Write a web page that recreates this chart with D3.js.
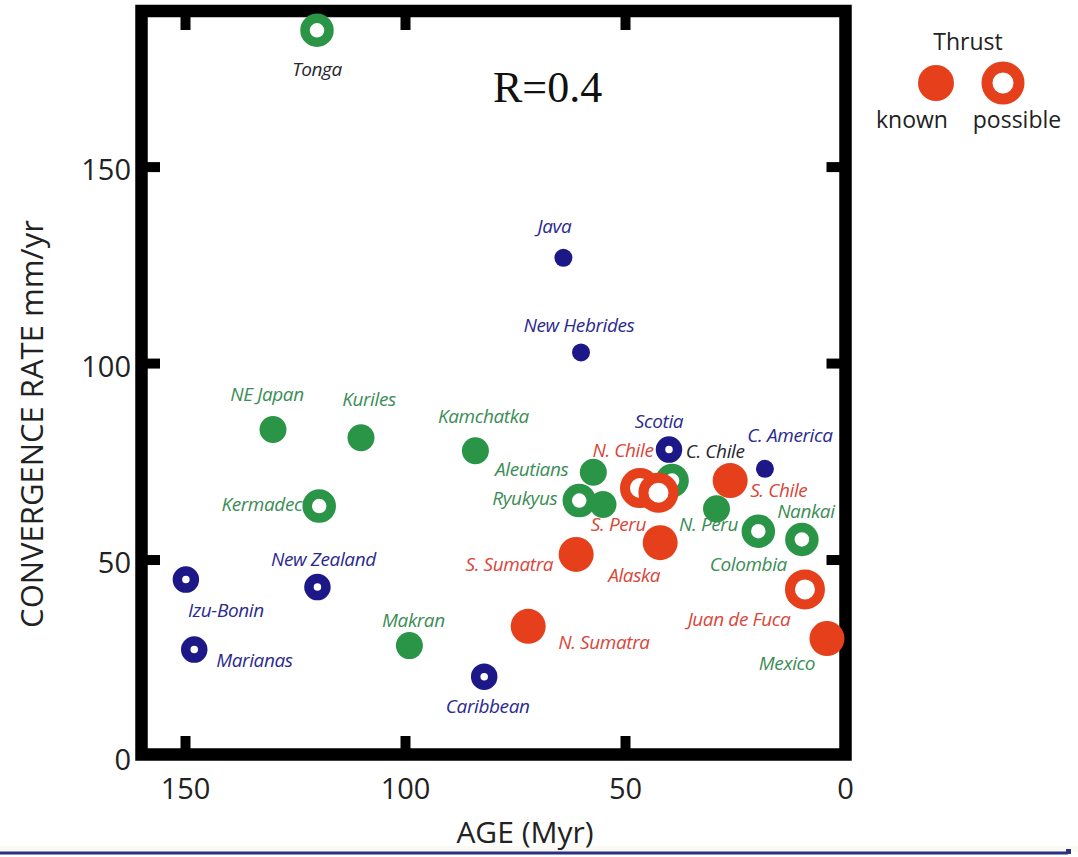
<!DOCTYPE html>
<html>
<head>
<meta charset="utf-8">
<script src="https://cdn.jsdelivr.net/npm/d3@7"></script>
<style>
  html, body { margin: 0; padding: 0; background: #fff; }
  svg { display: block; }
</style>
</head>
<body>
<svg id="chart" width="1078" height="857"></svg>
<script>
// Subduction zones: slab age vs. convergence rate
const regions = ["Tonga", "Java", "New Hebrides", "NE Japan", "Kuriles", "Kermadec", "Kamchatka",
  "Scotia", "C. America", "Aleutians", "Ryukyus", "", "N. Chile", "S. Peru", "C. Chile",
  "S. Chile", "N. Peru", "Colombia", "Nankai", "Juan de Fuca", "Mexico", "S. Sumatra",
  "Alaska", "N. Sumatra", "Makran", "Caribbean", "Izu-Bonin", "Marianas", "New Zealand"];
const ages  = [120, 64, 60, 130, 110, 119.5, 84, 40, 18.2, 57.2, 60.4, 55, 46.6, 42.4, 39.3,
  26.1, 29.2, 19.7, 9.8, 9.1, 4.1, 61.1, 42, 72, 99, 82, 149.8, 147.9, 119.9];
const rates = [184.7, 126.8, 102.7, 83.1, 81, 63.6, 77.7, 78, 73.1, 72.2, 65, 64, 68.2, 67, 70.1,
  70.1, 62.9, 57.2, 55.1, 42.4, 29.9, 51.3, 54.3, 33, 28.1, 20.2, 44.9, 27.1, 43];
// colour group of each zone
const groups = ["green", "blue", "blue", "green", "green", "green", "green", "blue", "blue",
  "green", "green", "green", "red", "red", "green", "red", "green", "green", "green", "red",
  "red", "red", "red", "red", "green", "blue", "blue", "blue", "blue"];
// marker style: filled dot or open ring
const kinds = ["ring", "dot", "dot", "dot", "dot", "ring", "dot", "ring", "dot", "dot", "ring",
  "dot", "ring", "ring", "ring", "dot", "dot", "ring", "ring", "ring", "dot", "dot", "dot",
  "dot", "dot", "ring", "ring", "ring", "ring"];
const labelGroups = ["dark", "blue", "blue", "green", "green", "green", "green", "blue", "blue",
  "green", "green", "green", "red", "red", "dark", "red", "green", "green", "green", "red",
  "green", "red", "red", "red", "green", "blue", "blue", "blue", "blue"];

const xTicks = [150, 100, 50, 0];
const yTicks = [0, 50, 100, 150];
const legendItems = ["known", "possible"];

// label placement relative to each marker: [dx, dy, anchor]
const labelOffsets = {
  "Tonga": [0, 46, "middle"], "Java": [-9, -25, "middle"], "New Hebrides": [-2, -20, "middle"],
  "NE Japan": [-6, -28, "middle"], "Kuriles": [8, -32, "middle"], "Kermadec": [-17, 5, "end"],
  "Kamchatka": [8, -28, "middle"], "Scotia": [-10, -22, "middle"], "C. America": [25, -27, "middle"],
  "Aleutians": [-25, 4, "end"], "Ryukyus": [-22, 4, "end"], "N. Chile": [-17, -31, "middle"],
  "S. Peru": [-40, 38, "middle"], "C. Chile": [43, -23, "middle"], "S. Chile": [20, 16, "start"],
  "N. Peru": [-8, 22, "middle"], "Colombia": [-10, 40, "middle"], "Nankai": [4, -21, "middle"],
  "Juan de Fuca": [-66, 37, "middle"], "Mexico": [-40, 31, "middle"], "S. Sumatra": [-23, 17, "end"],
  "Alaska": [-26, 39, "middle"], "N. Sumatra": [30, 23, "start"], "Makran": [4, -19, "middle"],
  "Caribbean": [3.5, 36, "middle"], "Izu-Bonin": [40, 37, "middle"], "Marianas": [22, 17, "start"],
  "New Zealand": [6, -21, "middle"]
};

const colors = { red: "#e5401b", green: "#2a9447", blue: "#1d1887" };
const labelColors = { red: "#d8473a", green: "#3b8d55", blue: "#2b2a8e", dark: "#262630" };
// marker geometry: radius of the circle and ring stroke width
const markerStyle = {
  "blue-dot":  { r: 9,    sw: 0 },
  "blue-ring": { r: 8.5,  sw: 9.5 },
  "green-dot": { r: 13.5, sw: 0 },
  "green-ring":{ r: 12,   sw: 9.5 },
  "red-dot":   { r: 17.5, sw: 0 },
  "red-ring":  { r: 15,   sw: 10 }
};
const layerOrder = { "green-dot": 0, "green-ring": 1, "blue-dot": 2, "blue-ring": 2, "red-dot": 3, "red-ring": 4 };

const svg = d3.select("#chart");
const font = "'Open Sans', 'DejaVu Sans', sans-serif";

// bottom rule
svg.append("rect").attr("x", 0).attr("y", 846).attr("width", 1078).attr("height", 6).attr("fill", "#fbfaf0");
svg.append("line").attr("x1", 0).attr("x2", 1068).attr("y1", 853).attr("y2", 853)
  .attr("stroke", "#2a2f8a").attr("stroke-width", 3);
svg.append("rect").attr("x", 1066).attr("y", 849).attr("width", 5).attr("height", 5).attr("fill", "#2a2f8a");

const x = d3.scaleLinear().domain([160, 0]).range([141, 845]);
const y = d3.scaleLinear().domain([0, 189.6]).range([756, 11]);

// axes with inward ticks on all four sides
const tickStyle = g => {
  g.select(".domain").remove();
  g.selectAll(".tick line").attr("stroke", "#000").attr("stroke-width", 10);
  g.selectAll(".tick text").attr("font-family", font).attr("font-size", 29).attr("fill", "#222");
};
svg.append("g").attr("transform", "translate(0,755)")
  .call(d3.axisBottom(x).tickValues(xTicks).tickSizeInner(-19).tickSizeOuter(0).tickPadding(23).tickFormat(d3.format("d")))
  .call(tickStyle)
  .call(g => g.selectAll(".tick").filter(d => d === 0).select("line").remove());
svg.append("g").attr("transform", "translate(0,11)")
  .call(d3.axisTop(x).tickValues(xTicks.filter(d => d !== 0)).tickSizeInner(-19).tickSizeOuter(0).tickFormat(""))
  .call(tickStyle);
svg.append("g").attr("transform", "translate(141,0)")
  .call(d3.axisLeft(y).tickValues(yTicks).tickSizeInner(-19).tickSizeOuter(0).tickPadding(10).tickFormat(d3.format("d")))
  .call(tickStyle)
  .call(g => g.selectAll(".tick text").attr("dy", "0.45em"))
  .call(g => g.selectAll(".tick").filter(d => d === 0).select("line").remove());
svg.append("g").attr("transform", "translate(845.5,0)")
  .call(d3.axisRight(y).tickValues(yTicks.filter(d => d !== 0)).tickSizeInner(-19).tickSizeOuter(0).tickFormat(""))
  .call(tickStyle);

// heavy frame
svg.append("rect")
  .attr("x", 141.5).attr("y", 11)
  .attr("width", 845.5 - 141.5).attr("height", 754.5 - 11)
  .attr("fill", "none").attr("stroke", "#000").attr("stroke-width", 12.5);

// axis titles
svg.append("text").attr("x", 525).attr("y", 843)
  .attr("text-anchor", "middle").attr("font-family", font).attr("font-size", 30).attr("fill", "#222")
  .text("AGE (Myr)");
svg.append("text").attr("transform", "translate(43,424) rotate(-90)")
  .attr("text-anchor", "middle").attr("font-family", font).attr("font-size", 31).attr("fill", "#222")
  .text("CONVERGENCE RATE mm/yr");

// correlation note
svg.append("text").attr("x", 493).attr("y", 102)
  .attr("font-family", "'Liberation Serif', 'Times New Roman', serif").attr("font-size", 44).attr("fill", "#111")
  .text("R=0.4");

// data points
const data = regions.map((name, i) => ({
  name, age: ages[i], rate: rates[i], group: groups[i], kind: kinds[i], labelGroup: labelGroups[i]
}));
const sorted = data.slice().sort((a, b) => layerOrder[a.group + "-" + a.kind] - layerOrder[b.group + "-" + b.kind]);

const plot = svg.append("g");
plot.selectAll("circle").data(sorted).join("circle")
  .attr("cx", d => x(d.age))
  .attr("cy", d => y(d.rate))
  .attr("r", d => markerStyle[d.group + "-" + d.kind].r)
  .attr("fill", d => d.kind === "dot" ? colors[d.group] : "#fff")
  .attr("stroke", d => d.kind === "ring" ? colors[d.group] : "none")
  .attr("stroke-width", d => markerStyle[d.group + "-" + d.kind].sw);

// region names
svg.append("g").selectAll("text").data(data.filter(d => d.name)).join("text")
  .attr("x", d => x(d.age) + labelOffsets[d.name][0])
  .attr("y", d => y(d.rate) + labelOffsets[d.name][1])
  .attr("text-anchor", d => labelOffsets[d.name][2])
  .attr("font-family", font).attr("font-style", "italic").attr("font-size", 19)
  .attr("letter-spacing", "-0.4")
  .attr("fill", d => labelColors[d.labelGroup])
  .text(d => d.name);

// legend
const legend = svg.append("g");
legend.append("text").attr("x", 968).attr("y", 50).attr("text-anchor", "middle")
  .attr("font-family", font).attr("font-size", 23).attr("fill", "#222").text("Thrust");
const legX = d3.scalePoint().domain(legendItems).range([936, 1003]);
legend.selectAll("circle").data(legendItems).join("circle")
  .attr("cx", d => legX(d)).attr("cy", 83)
  .attr("r", d => d === "known" ? 18 : 16)
  .attr("fill", d => d === "known" ? colors.red : "#fff")
  .attr("stroke", d => d === "known" ? "none" : colors.red)
  .attr("stroke-width", 11);
legend.selectAll("text.item").data(legendItems).join("text").attr("class", "item")
  .attr("x", d => d === "known" ? 912 : 1017).attr("y", 128).attr("text-anchor", "middle")
  .attr("font-family", font).attr("font-size", 23).attr("fill", "#222").text(d => d);
</script>
</body>
</html>
